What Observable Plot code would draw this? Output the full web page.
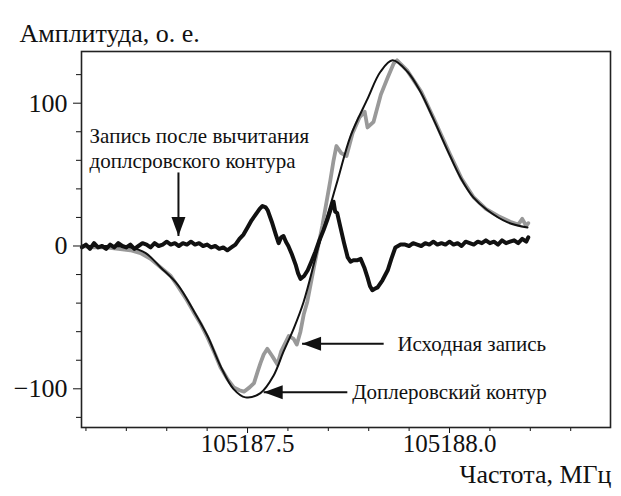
<!DOCTYPE html>
<html>
<head>
<meta charset="utf-8">
<script src="https://cdn.jsdelivr.net/npm/d3@7"></script>
<script src="https://cdn.jsdelivr.net/npm/@observablehq/plot@0.6"></script>
</head>
<body style="margin:0;background:#fff">
<div id="chart"></div>
<script>
// ---------- data (frequency in MHz, amplitude in a.u.) ----------
const dopplerFreq = [105187.092, 105187.15, 105187.21, 105187.248, 105187.285, 105187.327, 105187.366, 105187.401, 105187.433, 105187.465, 105187.495, 105187.532, 105187.564, 105187.589, 105187.614, 105187.639, 105187.676, 105187.723, 105187.755, 105187.797, 105187.829, 105187.859, 105187.896, 105187.928, 105187.960, 105187.995, 105188.027, 105188.059, 105188.094, 105188.144, 105188.193];
const dopplerAmp = [0, 0, -1, -5, -15, -27, -45, -63, -84, -100, -106, -103, -91, -74, -58, -39, 0, 46, 77, 103, 122, 130, 122, 108, 89, 67, 48, 34, 25, 16.5, 13];

const sourceFreq = [105187.092, 105187.12, 105187.15, 105187.18, 105187.21, 105187.235, 105187.26, 105187.285, 105187.31, 105187.327, 105187.35, 105187.366, 105187.385, 105187.401, 105187.42, 105187.433, 105187.45, 105187.466, 105187.48, 105187.491, 105187.505, 105187.516, 105187.525, 105187.532, 105187.54, 105187.549, 105187.561, 105187.574, 105187.583, 105187.59, 105187.602, 105187.614, 105187.622, 105187.631, 105187.639, 105187.648, 105187.665, 105187.685, 105187.705, 105187.713, 105187.72, 105187.732, 105187.745, 105187.76, 105187.777, 105187.79, 105187.797, 105187.812, 105187.83, 105187.847, 105187.862, 105187.87, 105187.895, 105187.93, 105187.96, 105188.0, 105188.03, 105188.06, 105188.09, 105188.12, 105188.15, 105188.17, 105188.18, 105188.19, 105188.195];
const sourceAmp = [0, -1, -1, -2, -3, -5, -9, -15, -21, -28, -38, -46, -55, -64, -76, -85, -93, -99, -101, -102, -99, -96, -88, -82, -76, -72, -77, -83, -74, -70, -63, -65, -69, -60, -48, -39, -14, 14, 46, 60, 70, 65, 63, 79, 90, 94, 83, 87, 106, 118, 128, 130, 123, 108, 90, 65, 47, 34, 26, 21, 17, 15, 19, 14, 16];

const residualFreq = [105187.09, 105187.10, 105187.11, 105187.12, 105187.13, 105187.14, 105187.15, 105187.16, 105187.17, 105187.18, 105187.19, 105187.20, 105187.21, 105187.22, 105187.23, 105187.24, 105187.25, 105187.26, 105187.27, 105187.28, 105187.29, 105187.30, 105187.31, 105187.32, 105187.33, 105187.34, 105187.35, 105187.36, 105187.37, 105187.38, 105187.39, 105187.40, 105187.41, 105187.42, 105187.43, 105187.44, 105187.45, 105187.46, 105187.47, 105187.48, 105187.49, 105187.50, 105187.51, 105187.52, 105187.53, 105187.537, 105187.545, 105187.55, 105187.56, 105187.57, 105187.577, 105187.583, 105187.589, 105187.595, 105187.601, 105187.61, 105187.619, 105187.625, 105187.631, 105187.64, 105187.649, 105187.658, 105187.668, 105187.678, 105187.688, 105187.697, 105187.705, 105187.713, 105187.717, 105187.722, 105187.73, 105187.739, 105187.748, 105187.755, 105187.762, 105187.771, 105187.78, 105187.789, 105187.797, 105187.803, 105187.809, 105187.815, 105187.822, 105187.834, 105187.847, 105187.856, 105187.866, 105187.879, 105187.89, 105187.90, 105187.91, 105187.92, 105187.93, 105187.94, 105187.95, 105187.96, 105187.97, 105187.98, 105187.99, 105188.00, 105188.01, 105188.02, 105188.03, 105188.04, 105188.05, 105188.06, 105188.07, 105188.08, 105188.09, 105188.10, 105188.11, 105188.12, 105188.13, 105188.14, 105188.15, 105188.16, 105188.17, 105188.18, 105188.19, 105188.195];
const residualAmp = [-1, 1, -2, 2, -1, 0, -2, 1, -1, 2, 0, -1, 1, -2, 0, 2, 1, -1, 2, 0, 1, 3, 1, 2, 0, 2, 1, 3, 1, 2, 0, 1, -1, 0, -2, -1, -3, -1, 1, 5, 8, 13, 18, 22, 26, 28, 27, 25, 17, 8, 2, 6, 7, 3, 0, -6, -13, -19, -23, -21, -17, -11, -4, 4, 11, 18, 25, 31, 24, 23, 13, 2, -8, -11, -10, -10, -9, -15, -22, -28, -31, -30, -29, -24, -17, -9, -1, 1, 1, 0, 2, 1, 0, 2, 1, 3, 1, 2, 1, 3, 1, 2, 0, 3, 2, 1, 3, 2, 4, 2, 3, 1, 4, 2, 3, 4, 2, 5, 3, 6];

// axis ticks
const yMajorTicks = [-100, 0, 100];
const yMinorTicks = [-120, -80, -60, -40, -20, 20, 40, 60, 80, 120];
const xMajorTicks = [105187.5, 105188.0];
const xMinorTicks = [105187.1, 105187.2, 105187.3, 105187.4, 105187.6, 105187.7, 105187.8, 105187.9, 105188.1, 105188.2, 105188.3];

// annotations
const noteText = ["Запись после вычитания", "доплсровского контура", "Исходная запись", "Доплеровский контур"];
const noteFreq = [105187.109, 105187.109, 105187.871, 105187.759];
const noteAmp = [77, 59, -68.5, -102.4];
const arrowTailFreq = [105187.329, 105187.837, 105187.747];
const arrowTailAmp = [51.5, -68.5, -102.4];
const arrowTipFreq = [105187.329, 105187.635, 105187.540];
const arrowTipAmp = [7, -68.5, -102.4];
const arrowAngle = [0, 90, 90];

const titleText = "Амплитуда, о. е.";
const xLabelText = "Частота, МГц";

// ---------- build tables ----------
const doppler = dopplerFreq.map((f, i) => ({f, a: dopplerAmp[i]}));
const source = sourceFreq.map((f, i) => ({f, a: sourceAmp[i]}));
const residual = residualFreq.map((f, i) => ({f, a: residualAmp[i]}));
const notes = noteText.map((t, i) => ({t, f: noteFreq[i], a: noteAmp[i]}));
const arrows = arrowTailFreq.map((f, i) => ({
  f1: f, a1: arrowTailAmp[i], f2: arrowTipFreq[i], a2: arrowTipAmp[i], rot: arrowAngle[i]
}));

const headSymbol = {
  draw(ctx) {
    ctx.moveTo(0, 0);
    ctx.lineTo(-7, -19);
    ctx.lineTo(7, -19);
    ctx.closePath();
  }
};

const ink = "#111";
const SERIF = "Liberation Serif";
const fmtY = d => d < 0 ? "\u2212" + Math.abs(d) : String(d);

const chart = Plot.plot({
  width: 621,
  height: 496,
  marginTop: 51,
  marginLeft: 81,
  marginRight: 11,
  marginBottom: 69,
  style: {background: "#fff", color: ink},
  x: {domain: [105187.089, 105188.3985]},
  y: {domain: [-127.1, 136.2]},
  marks: [
    Plot.axisY({ticks: yMinorTicks, tickSize: 5, tickFormat: () => "", label: null, stroke: ink}),
    Plot.axisY({ticks: yMajorTicks, tickSize: 8, tickPadding: 6, tickFormat: fmtY, label: null, stroke: ink, fontSize: 26, fontFamily: SERIF}),
    Plot.axisX({ticks: xMinorTicks, tickSize: 4, tickFormat: () => "", label: null, stroke: ink}),
    Plot.axisX({ticks: xMajorTicks, tickSize: 6, tickPadding: 1, tickFormat: d => d.toFixed(1), label: null, stroke: ink, fontSize: 25, fontFamily: SERIF}),
    Plot.line(source, {x: "f", y: "a", stroke: "#999", strokeWidth: 3.8, curve: "linear"}),
    Plot.line(residual, {x: "f", y: "a", stroke: ink, strokeWidth: 4, curve: "linear"}),
    Plot.line(doppler, {x: "f", y: "a", stroke: ink, strokeWidth: 2, curve: "catmull-rom"}),
    Plot.frame({stroke: "#222", strokeWidth: 1.6}),
    Plot.link(arrows, {x1: "f1", y1: "a1", x2: "f2", y2: "a2", stroke: ink, strokeWidth: 2}),
    Plot.dot(arrows, {x: "f2", y: "a2", symbol: headSymbol, rotate: "rot", fill: ink, stroke: "none", r: 5}),
    Plot.text(notes, {x: "f", y: "a", text: "t", textAnchor: "start", fontSize: 21, fontFamily: SERIF, fill: ink}),
    Plot.text([titleText], {text: d => d, frameAnchor: "top-left", dx: -62, dy: -28, textAnchor: "start", fontSize: 26, fontFamily: SERIF, fill: ink}),
    Plot.text([xLabelText], {text: d => d, frameAnchor: "bottom-right", dx: 1, dy: 55, textAnchor: "end", fontSize: 26, fontFamily: SERIF, fill: ink})
  ]
});
document.getElementById("chart").appendChild(chart);
</script>
</body>
</html>
